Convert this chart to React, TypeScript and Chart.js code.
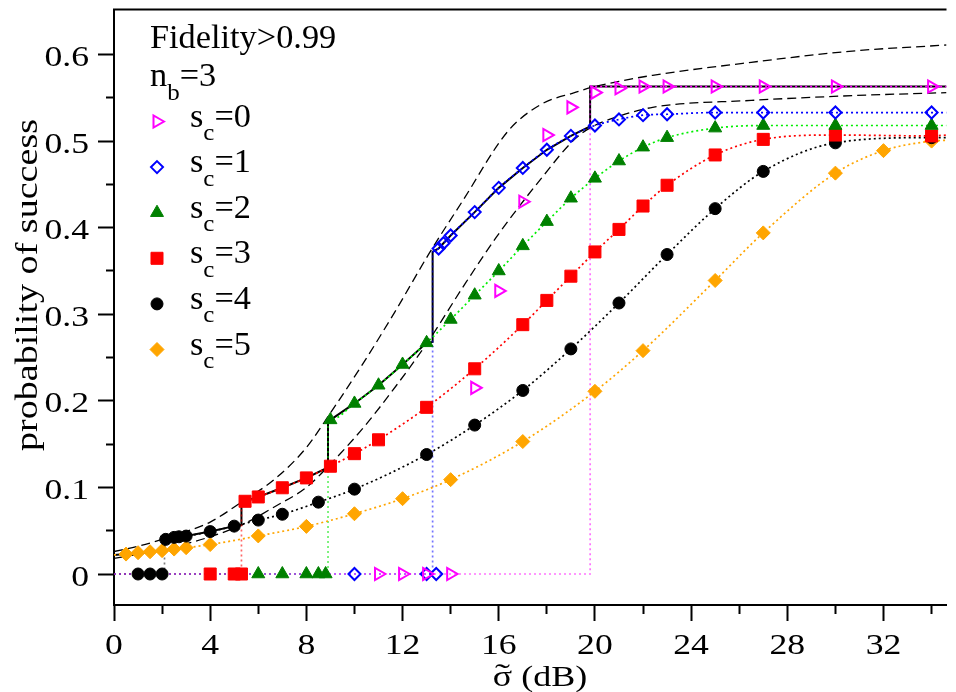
import React, { useEffect, useRef } from 'react';
import { Chart, registerables } from 'chart.js';

Chart.register(...registerables);

// ---------- axis ranges ----------
const X_MIN = 0;
const X_MAX = 34.62;
const Y_MIN = -0.0358;
const Y_MAX = 0.652;

// ---------- data ----------
// s_c = 0 (magenta open right triangles)
const s0X = [11, 12, 13, 14, 15, 16, 17, 18, 19, 20, 21, 22, 23, 25, 27, 30, 34];
const s0Y = [0, 0, 0, 0, 0.215, 0.327, 0.43, 0.507, 0.539, 0.556, 0.561, 0.563, 0.563, 0.563, 0.563, 0.563, 0.563];
// s_c = 1 (blue open diamonds)
const s1X = [10, 13, 13.4, 13.5, 13.7, 14, 15, 16, 17, 18, 19, 20, 21, 22, 23, 25, 27, 30, 34];
const s1Y = [0, 0, 0, 0.376, 0.382, 0.391, 0.418, 0.446, 0.469, 0.49, 0.506, 0.518, 0.525, 0.53, 0.531, 0.533, 0.533, 0.533, 0.533];
// s_c = 2 (green triangles)
const s2X = [6, 7, 8, 8.5, 8.8, 9, 10, 11, 12, 13, 14, 15, 16, 17, 18, 19, 20, 21, 22, 23, 25, 27, 30, 34];
const s2Y = [0, 0, 0, 0, 0, 0.178, 0.197, 0.218, 0.242, 0.267, 0.294, 0.322, 0.35, 0.379, 0.407, 0.434, 0.457, 0.477, 0.493, 0.504, 0.515, 0.518, 0.518, 0.518];
// s_c = 3 (red squares)
const s3X = [4, 5, 5.3, 5.45, 6, 7, 8, 9, 10, 11, 13, 15, 17, 18, 19, 20, 21, 22, 23, 25, 27, 30, 34];
const s3Y = [0, 0, 0, 0.084, 0.089, 0.0996, 0.111, 0.1245, 0.139, 0.155, 0.1925, 0.237, 0.288, 0.316, 0.344, 0.372, 0.398, 0.425, 0.449, 0.484, 0.502, 0.507, 0.506];
// s_c = 4 (black circles)
const s4X = [1, 1.5, 2, 2.15, 2.5, 2.7, 3, 4, 5, 6, 7, 8.5, 10, 13, 15, 17, 19, 21, 23, 25, 27, 30, 34];
const s4Y = [0, 0, 0, 0.04, 0.0423, 0.043, 0.0438, 0.049, 0.0553, 0.0623, 0.069, 0.083, 0.098, 0.138, 0.172, 0.212, 0.26, 0.313, 0.369, 0.422, 0.465, 0.498, 0.504];
// s_c = 5 (orange diamonds)
const s5X = [0.5, 1, 1.5, 2, 2.5, 3, 4, 6, 8, 10, 12, 14, 17, 20, 22, 25, 27, 30, 32, 34];
const s5Y = [0.023, 0.0246, 0.0257, 0.027, 0.0288, 0.0304, 0.034, 0.044, 0.055, 0.0696, 0.087, 0.109, 0.153, 0.211, 0.258, 0.339, 0.394, 0.463, 0.489, 0.5];

// fitted curves: onset (jump) position, value just after the jump, value at the next series' onset, value at right edge
const fitOnset = [19.8, 13.25, 8.9, 5.3, 2.1, 0];
const fitOnsetValue = [0.563, 0.372, 0.178, 0.084, 0.04, 0.022];
const fitHandoffValue = [0.563, 0.517, 0.268, 0.123, 0.057, 0.028];
const fitEdgeValue = [0.563, 0.533, 0.518, 0.507, 0.504, 0.501];
const fitThroughPoints = [false, true, true, true, true, true];

// dashed bounds
const upperX = [0, 1, 2, 3, 4, 5.3, 6.7, 8, 9, 10.4, 11.75, 13.1, 14.5, 16.4, 17.8, 19.15, 19.85, 21, 22.4, 26.5, 30.7, 34.62];
const upperY = [0.026, 0.032, 0.04, 0.049, 0.06, 0.083, 0.11, 0.146, 0.186, 0.245, 0.306, 0.37, 0.431, 0.512, 0.543, 0.556, 0.562, 0.569, 0.576, 0.591, 0.604, 0.611];
const lowerX = [0, 2, 4, 5.3, 6.7, 8, 9, 10.4, 11.75, 13.1, 14.5, 15.9, 17.8, 19.15, 19.85, 20.8, 22.4, 26.5, 30.7, 34.62];
const lowerY = [0.018, 0.028, 0.043, 0.0565, 0.078, 0.1, 0.127, 0.17, 0.218, 0.27, 0.331, 0.389, 0.458, 0.502, 0.516, 0.527, 0.539, 0.547, 0.5525, 0.556];

const seriesNames = ['0', '1', '2', '3', '4', '5'];
const xTickLabelStep = 4;
const yTickLabelStep = 0.1;

// ---------- styles ----------
const seriesX = [s0X, s1X, s2X, s3X, s4X, s5X];
const seriesY = [s0Y, s1Y, s2Y, s3Y, s4Y, s5Y];

type Sty = { kind: string; chartStyle: string; rot: number; r: number; fill: string | null; stroke: string; lw: number; line: string; step: string };
const STYLES: Sty[] = [
  { kind: 'triRight', chartStyle: 'triangle', rot: 90, r: 7, fill: null, stroke: '#ff00ff', lw: 2, line: '#ff00ff', step: 'rgba(255,0,255,0.55)' },
  { kind: 'diamond', chartStyle: 'rectRot', rot: 0, r: 6, fill: null, stroke: '#0000ff', lw: 2, line: '#0000ff', step: 'rgba(0,0,255,0.55)' },
  { kind: 'triUp', chartStyle: 'triangle', rot: 0, r: 7.5, fill: '#008000', stroke: '#008000', lw: 1, line: '#00ee00', step: 'rgba(0,230,0,0.6)' },
  { kind: 'square', chartStyle: 'rect', rot: 0, r: 8.5, fill: '#ff0000', stroke: '#ff0000', lw: 1, line: '#ff0000', step: 'rgba(255,0,0,0.6)' },
  { kind: 'circle', chartStyle: 'circle', rot: 0, r: 6, fill: '#000000', stroke: '#000000', lw: 1, line: '#000000', step: 'rgba(0,0,0,0.5)' },
  { kind: 'diamond', chartStyle: 'rectRot', rot: 0, r: 7, fill: '#ffa500', stroke: '#ffa500', lw: 1, line: '#ffa500', step: 'rgba(255,165,0,0.6)' },
];

const FONT = '"Liberation Serif", "Times New Roman", serif';

const near = (v: number, step: number) => Math.abs(v / step - Math.round(v / step)) < 1e-6;

function pts(xs: number[], ys: number[]) {
  return xs.map((x, i) => ({ x, y: ys[i] }));
}

function buildDatasets() {
  const ds: any[] = [];
  // markers (order 0: on top)
  for (let k = 0; k < 6; k++) {
    const s = STYLES[k];
    ds.push({
      label: 's_c=' + seriesNames[k],
      data: pts(seriesX[k], seriesY[k]),
      showLine: false,
      pointStyle: s.chartStyle,
      pointRotation: s.rot,
      pointRadius: s.r,
      pointBackgroundColor: s.fill || 'rgba(0,0,0,0)',
      pointBorderColor: s.stroke,
      pointBorderWidth: s.lw,
      order: 0,
    });
  }
  // fitted dotted curves
  for (let k = 0; k < 6; k++) {
    const fit = [{ x: fitOnset[k], y: fitOnsetValue[k] }];
    if (fitThroughPoints[k]) {
      seriesX[k].forEach((x, i) => {
        if (x > fitOnset[k] && seriesY[k][i] > 0) fit.push({ x, y: seriesY[k][i] });
      });
    }
    fit.push({ x: X_MAX, y: fitEdgeValue[k] });
    ds.push({
      data: fit,
      showLine: true,
      pointRadius: 0,
      borderColor: STYLES[k].line,
      borderWidth: 1.7,
      borderDash: [2, 3],
      cubicInterpolationMode: 'monotone',
      order: 1,
    });
  }
  // zero segments + vertical jumps
  for (let k = 0; k < 5; k++) {
    ds.push({
      data: [{ x: X_MIN, y: 0 }, { x: fitOnset[k], y: 0 }, { x: fitOnset[k], y: fitOnsetValue[k] }],
      showLine: true,
      pointRadius: 0,
      borderColor: STYLES[k].step,
      borderWidth: 1.7,
      borderDash: [2, 3],
      tension: 0,
      order: 2,
    });
  }
  // envelope (solid black)
  const env: { x: number; y: number }[] = [];
  for (let k = 5; k >= 0; k--) {
    const start = fitOnset[k];
    const end = k === 0 ? X_MAX : fitOnset[k - 1];
    env.push({ x: start, y: fitOnsetValue[k] });
    if (fitThroughPoints[k]) {
      seriesX[k].forEach((x, i) => {
        if (x > start && x < end && seriesY[k][i] > 0) env.push({ x, y: seriesY[k][i] });
      });
    }
    env.push({ x: end, y: fitHandoffValue[k] });
  }
  ds.push({ data: env, showLine: true, pointRadius: 0, borderColor: '#000', borderWidth: 2, tension: 0, order: 3 });
  // dashed bounds
  ds.push({ data: pts(upperX, upperY), showLine: true, pointRadius: 0, borderColor: '#000', borderWidth: 1.3, borderDash: [9, 5], cubicInterpolationMode: 'monotone', order: 4 });
  ds.push({ data: pts(lowerX, lowerY), showLine: true, pointRadius: 0, borderColor: '#000', borderWidth: 1.3, borderDash: [9, 5], cubicInterpolationMode: 'monotone', order: 4 });
  return ds;
}

function textAt(ctx: CanvasRenderingContext2D, text: string, x: number, y: number, size: number, sx: number, align: CanvasTextAlign, rot = 0) {
  ctx.save();
  ctx.translate(x, y);
  if (rot) ctx.rotate(rot);
  ctx.scale(sx, 1);
  ctx.font = `${size}px ${FONT}`;
  ctx.textAlign = align;
  ctx.textBaseline = 'alphabetic';
  ctx.fillText(text, 0, 0);
  ctx.restore();
}

function textWidth(ctx: CanvasRenderingContext2D, text: string, size: number, sx: number) {
  ctx.save();
  ctx.font = `${size}px ${FONT}`;
  const w = ctx.measureText(text).width * sx;
  ctx.restore();
  return w;
}

function drawMarker(ctx: CanvasRenderingContext2D, s: Sty, x: number, y: number) {
  const r = s.r;
  ctx.save();
  ctx.beginPath();
  if (s.kind === 'triRight') {
    ctx.moveTo(x + r, y);
    ctx.lineTo(x - r / 2, y - r * 0.866);
    ctx.lineTo(x - r / 2, y + r * 0.866);
    ctx.closePath();
  } else if (s.kind === 'triUp') {
    ctx.moveTo(x, y - r);
    ctx.lineTo(x + r * 0.866, y + r / 2);
    ctx.lineTo(x - r * 0.866, y + r / 2);
    ctx.closePath();
  } else if (s.kind === 'diamond') {
    ctx.moveTo(x, y - r);
    ctx.lineTo(x + r, y);
    ctx.lineTo(x, y + r);
    ctx.lineTo(x - r, y);
    ctx.closePath();
  } else if (s.kind === 'square') {
    const h = r * Math.SQRT1_2;
    ctx.rect(x - h, y - h, 2 * h, 2 * h);
  } else {
    ctx.arc(x, y, r, 0, Math.PI * 2);
  }
  if (s.fill) {
    ctx.fillStyle = s.fill;
    ctx.fill();
  }
  ctx.strokeStyle = s.stroke;
  ctx.lineWidth = s.lw;
  ctx.stroke();
  ctx.restore();
}

const decorPlugin = {
  id: 'decor',
  afterDraw(chart: any) {
    const ctx: CanvasRenderingContext2D = chart.ctx;
    const area = chart.chartArea;
    ctx.save();
    // top frame line
    ctx.strokeStyle = '#000';
    ctx.lineWidth = 2;
    ctx.beginPath();
    ctx.moveTo(area.left - 1, area.top);
    ctx.lineTo(area.right, area.top);
    ctx.stroke();
    ctx.fillStyle = '#000';

    // tick labels from the library's ticks
    const xs = chart.scales.x;
    xs.ticks.forEach((t: any) => {
      if (near(t.value, xTickLabelStep)) {
        textAt(ctx, String(Math.round(t.value)), xs.getPixelForValue(t.value), area.bottom + 49, 28.5, 1.25, 'center');
      }
    });
    const ys = chart.scales.y;
    ys.ticks.forEach((t: any) => {
      if (near(t.value, yTickLabelStep)) {
        const lab = Math.abs(t.value) < 1e-9 ? '0' : t.value.toFixed(1);
        textAt(ctx, lab, area.left - 25, ys.getPixelForValue(t.value) + 11.5, 28.5, 1.25, 'right');
      }
    });

    // x axis title: sigma with tilde, then (dB)
    const tSize = 30;
    const tSx = 1.2;
    const wSig = textWidth(ctx, 'σ', tSize, tSx);
    const wRest = textWidth(ctx, ' (dB)', tSize, tSx);
    const x0 = 540 - (wSig + wRest) / 2;
    textAt(ctx, 'σ', x0, 686, tSize, tSx, 'left');
    textAt(ctx, '˜', x0 + wSig / 2, 684, tSize, 1.5, 'center');
    textAt(ctx, ' (dB)', x0 + wSig, 686, tSize, tSx, 'left');
    // y axis title
    textAt(ctx, 'probability of success', 37, 285, 32, 1.19, 'center', -Math.PI / 2);

    // legend
    textAt(ctx, 'Fidelity>0.99', 150, 48, 33, 1.04, 'left');
    let x = 150;
    textAt(ctx, 'n', x, 86, 33, 1.04, 'left');
    x += textWidth(ctx, 'n', 33, 1.04);
    textAt(ctx, 'b', x, 100, 24, 1.04, 'left');
    x += textWidth(ctx, 'b', 24, 1.04);
    textAt(ctx, '=3', x, 86, 33, 1.04, 'left');

    for (let k = 0; k < 6; k++) {
      const yc = 121.5 + 45.6 * k;
      drawMarker(ctx, STYLES[k], 157, yc);
      let tx = 190;
      textAt(ctx, 's', tx, yc + 5, 33, 1.04, 'left');
      tx += textWidth(ctx, 's', 33, 1.04);
      textAt(ctx, 'c', tx, yc + 18.5, 24, 1.04, 'left');
      tx += textWidth(ctx, 'c', 24, 1.04);
      textAt(ctx, '=' + seriesNames[k], tx, yc + 5, 33, 1.04, 'left');
    }
    ctx.restore();
  },
};

export default function App() {
  const ref = useRef<HTMLCanvasElement>(null);
  useEffect(() => {
    const canvas = ref.current;
    if (!canvas) return;
    const chart = new Chart(canvas, {
      type: 'scatter',
      data: { datasets: buildDatasets() },
      options: {
        animation: false,
        responsive: false,
        devicePixelRatio: 1,
        events: [],
        layout: { padding: { top: 9, left: 0, right: 0, bottom: 0 } },
        plugins: { legend: { display: false }, tooltip: { enabled: false } },
        scales: {
          x: {
            type: 'linear',
            position: 'bottom',
            min: X_MIN,
            max: X_MAX,
            afterFit: (s: any) => {
              s.height = 87;
            },
            ticks: { display: false, stepSize: 2, includeBounds: false },
            grid: {
              display: true,
              drawOnChartArea: false,
              drawTicks: true,
              tickLength: 16,
              tickWidth: 2,
              tickColor: '#000',
              tickBorderDash: (c: any) => (c.tick && near(c.tick.value, xTickLabelStep) ? [] : [8, 100]),
            },
            border: { display: true, color: '#000', width: 2 },
          },
          y: {
            type: 'linear',
            position: 'left',
            min: Y_MIN,
            max: Y_MAX,
            afterFit: (s: any) => {
              s.width = 114;
            },
            afterBuildTicks: (s: any) => {
              s.ticks = s.ticks.filter((t: any) => t.value >= -1e-9 && t.value <= 0.6 + 1e-9);
            },
            ticks: { display: false, stepSize: 0.05, includeBounds: false },
            grid: {
              display: true,
              drawOnChartArea: false,
              drawTicks: true,
              tickLength: 16,
              tickWidth: 2,
              tickColor: '#000',
              tickBorderDash: (c: any) => (c.tick && near(c.tick.value, yTickLabelStep) ? [] : [0, 8, 8, 100]),
            },
            border: { display: true, color: '#000', width: 2 },
          },
        },
      } as any,
      plugins: [decorPlugin],
    });
    return () => chart.destroy();
  }, []);
  return (
    <div style={{ position: 'fixed', left: 0, top: 0, width: 956, height: 692, background: '#fff' }}>
      <canvas ref={ref} width={956} height={692} style={{ display: 'block', width: 956, height: 692 }} />
    </div>
  );
}
